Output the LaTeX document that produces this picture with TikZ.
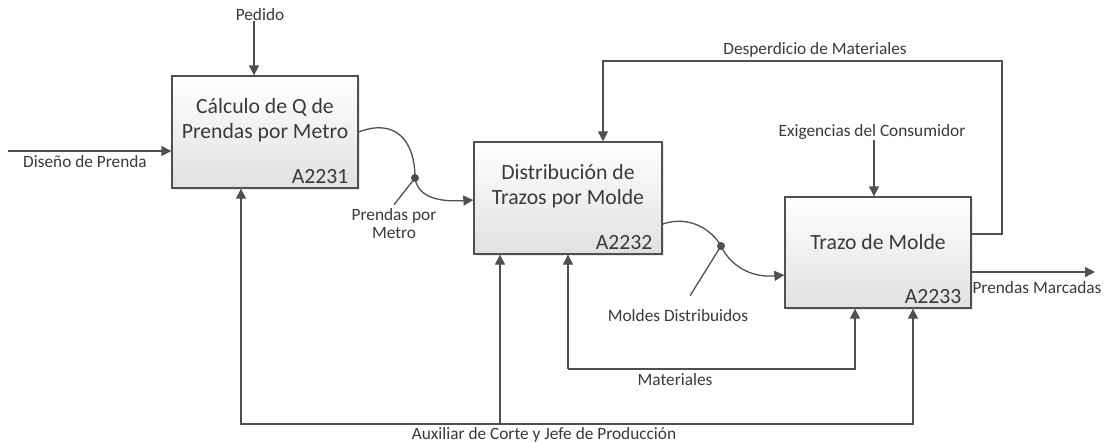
\documentclass[tikz,border=0pt]{standalone}
\usepackage{fontspec}
\setmainfont{Carlito}
\usetikzlibrary{arrows.meta,shadows}
\definecolor{lncol}{HTML}{505050}
\definecolor{txcol}{HTML}{3A3A3A}
\begin{document}
\begin{tikzpicture}[x=1pt,y=-1pt,
  proc/.style={draw=lncol, line width=1.3pt, top color=white, bottom color=black!12,
    minimum width=186pt, minimum height=112pt, inner sep=0pt,
    drop shadow={shadow xshift=2pt, shadow yshift=-2pt, opacity=0.18}},
  ttl/.style={font=\fontsize{21.7}{25}\selectfont, text=txcol, align=center, inner sep=0pt},
  idl/.style={font=\fontsize{21.7}{25}\selectfont, text=txcol, inner sep=0pt, anchor=south east},
  lbl/.style={font=\fontsize{17.3}{18}\selectfont, text=txcol, align=center, inner sep=0pt},
  wire/.style={draw=lncol, line width=1.3pt},
  arr/.style={wire, -{Triangle[length=10pt,width=10pt]}}
]
\useasboundingbox[fill=white] (0,0) rectangle (1104,444);

% boxes
\node[proc] (box1) at (265,132) {};
\node[proc, minimum width=188pt] (box2) at (568,198) {};
\node[proc, minimum height=111pt] (box3) at (878,252.5) {};

\node[ttl] (t1) at ([yshift=11.5pt]box1.center) {Cálculo de Q de\\Prendas por Metro};
\node[ttl] (t2) at ([yshift=12pt]box2.center) {Distribución de\\Trazos por Molde};
\node[ttl] (t3) at ([yshift=10.5pt]box3.center) {Trazo de Molde};

\node[idl] (id1) at ([xshift=-10pt,yshift=4.5pt]box1.south east) {A2231};
\node[idl] (id2) at ([xshift=-10pt,yshift=5pt]box2.south east) {A2232};
\node[idl] (id3) at ([xshift=-10pt,yshift=4.5pt]box3.south east) {A2233};

% labels
\node[lbl] (pedido) at (260,15) {Pedido};
\node[lbl] (diseno) at (85,162) {Diseño de Prenda};
\node[lbl] (despe) at (815,50) {Desperdicio de Materiales};
\node[lbl] (exig) at (872,132) {Exigencias del Consumidor};
\node[lbl] (marc) at (1037,288) {Prendas Marcadas};
\node[lbl] (prmet) at (394,224) {Prendas por\\Metro};
\node[lbl] (moldes) at (678,316) {Moldes Distribuidos};
\node[lbl] (mater) at (675,380) {Materiales};
\node[lbl] (auxl) at (544,435) {Auxiliar de Corte y Jefe de Producción};

% coordinates
\coordinate (din) at (8,151);
\coordinate (dout) at (1095,272);
\coordinate (d0) at (1002,234);
\coordinate (d1) at (1002,61);
\coordinate (d2) at (603,61);
\coordinate (aj) at (500,424);
\coordinate (mj) at (568,369);
\coordinate (dot1) at (415,178);
\coordinate (dot2) at (721,246);

% connectors
\draw[arr] ([xshift=-6pt]pedido.south) -- ([xshift=-11pt]box1.north);
\draw[arr] ([xshift=2pt]exig.south) -- ([xshift=-4pt]box3.north);
\draw[arr] (din) -- (din -| box1.west);
\draw[arr] (dout -| box3.east) -- (dout);
\draw[arr] (d0 -| box3.east) -- (d0) -- (d1) -- (d2) -- (d2 |- box2.north);
\draw[arr] (aj) -| ([xshift=-24pt]box1.south);
\draw[arr] (aj) -| ([xshift=35pt]box3.south);
\draw[arr] (aj) -- (aj |- box2.south);
\draw[arr] (mj) -- (mj |- box2.south);
\draw[arr] (mj) -| ([xshift=-23pt]box3.south);

\draw[arr] (box1.east) .. controls (395,118) and (415,140) .. (dot1)
  .. controls (418,198) and (440,202) .. ([yshift=-2pt]box2.west);
\fill[lncol] (dot1) circle (4pt);
\draw[wire] ([yshift=4pt]prmet.north) -- (dot1);

\draw[arr] ([yshift=-26pt]box2.east) .. controls (690,215) and (712,230) .. (dot2)
  .. controls (730,265) and (750,278) .. ([yshift=-22.5pt]box3.west);
\fill[lncol] (dot2) circle (4pt);
\draw[wire] ([xshift=12pt,yshift=14pt]moldes.north) -- (dot2);
\end{tikzpicture}
\end{document}
